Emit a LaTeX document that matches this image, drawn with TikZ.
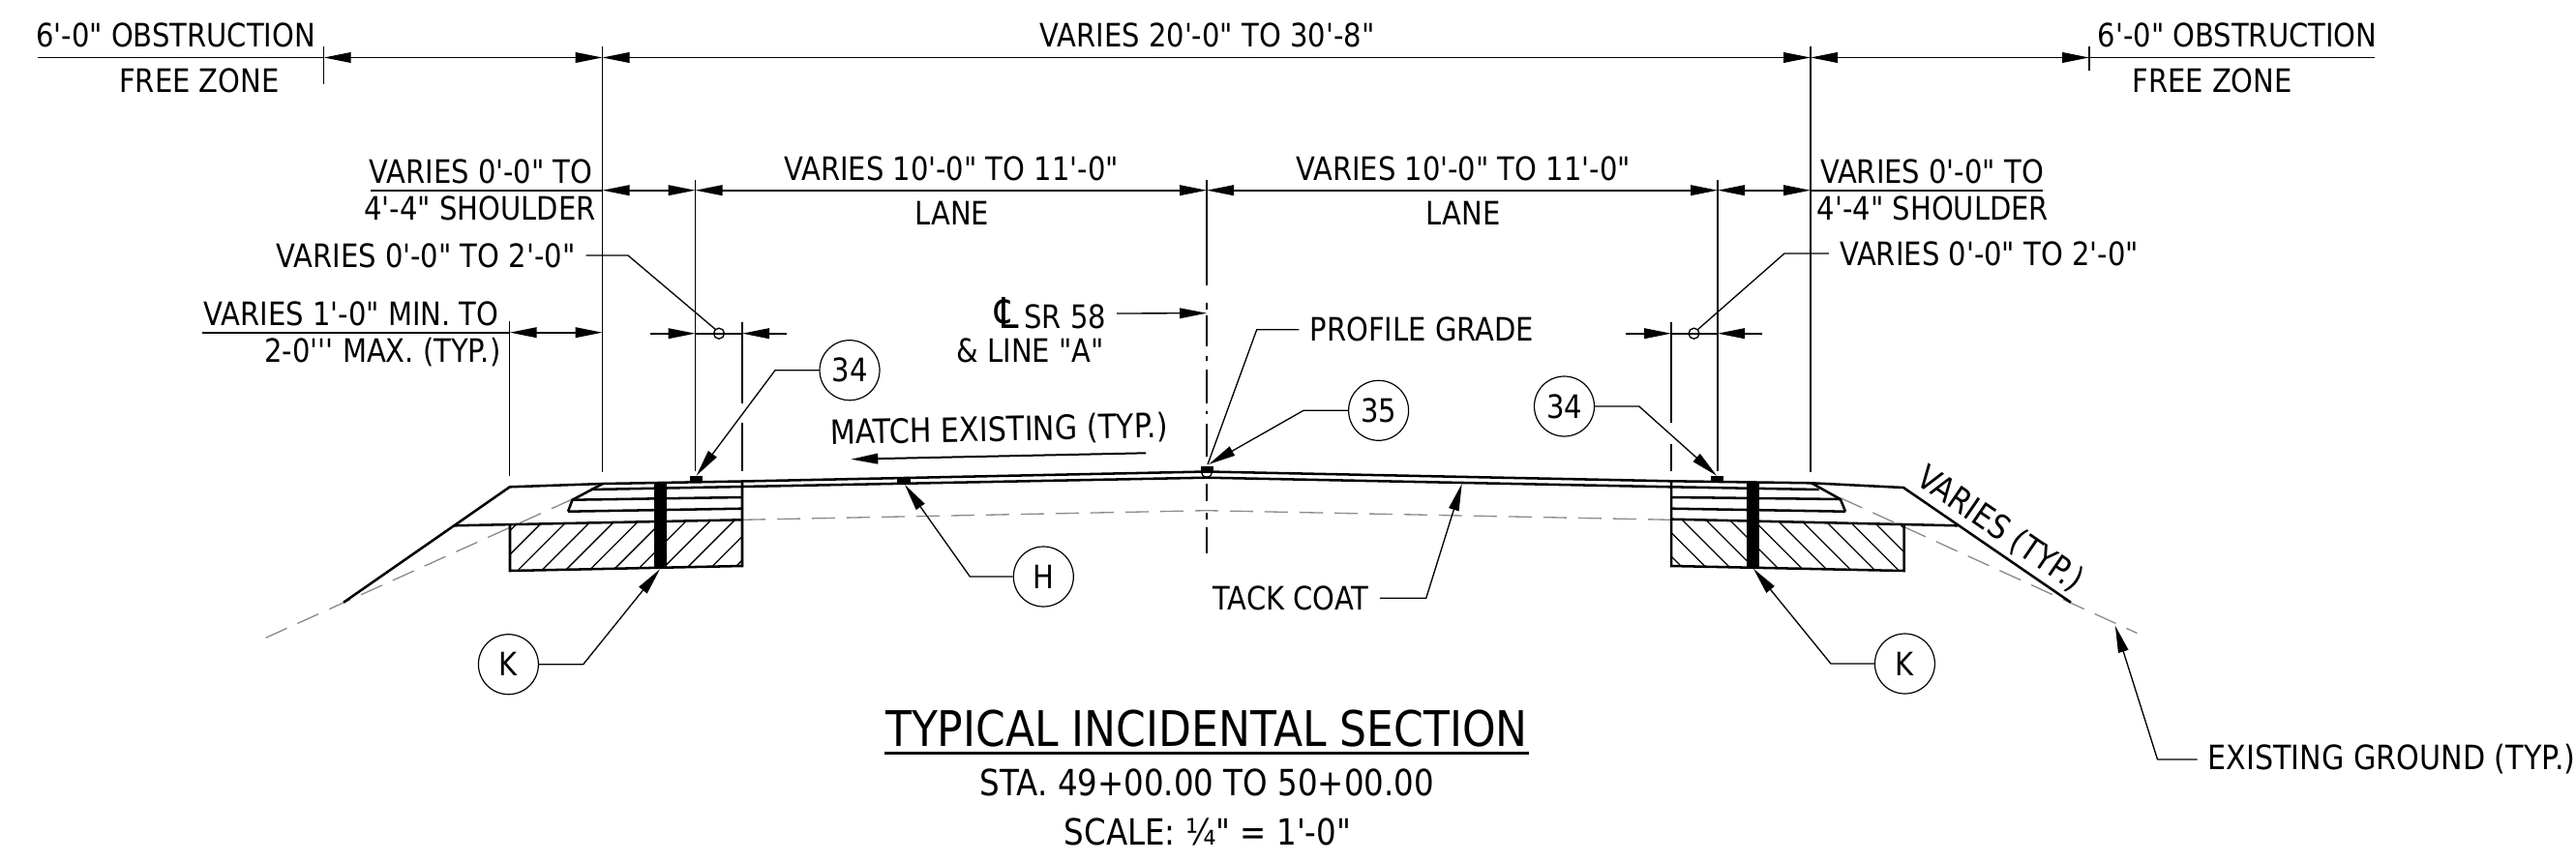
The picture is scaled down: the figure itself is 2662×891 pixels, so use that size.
\documentclass[tikz,border=0pt]{standalone}
\usepackage{fontspec}
\usetikzlibrary{arrows.meta}
\newfontfamily\cadfont{DejaVu Sans}[FakeStretch=0.87]
\tikzset{every picture/.style={line width=0.75pt}}
\tikzset{
	tip/.tip={Triangle[length=21pt,width=8pt]},
	lbl/.style={font=\cadfont\fontsize{25}{30}\selectfont,inner xsep=8pt,inner ysep=0pt},
	lblbig/.style={lbl,font=\cadfont\fontsize{26}{30}\selectfont},
	stat/.style={font=\cadfont\fontsize{28}{32}\selectfont,inner sep=0pt},
	ttl/.style={font=\cadfont\fontsize{38}{44}\selectfont,inner sep=0pt},
	bubble/.style={draw,circle,minimum size=46.5pt,inner sep=0pt,line width=0.9pt,font=\cadfont\fontsize{25}{30}\selectfont},
	extline/.style={line width=1pt},
	dimline/.style={line width=1.3pt},
	leader/.style={line width=1pt},
	roadline/.style={line width=1.9pt},
	oldground/.style={color=black!45,line width=1pt,dash pattern=on 18pt off 9pt},
	cline/.style={line width=1.2pt},
}

\begin{document}
\begin{tikzpicture}[x=0.75pt,y=0.75pt,yscale=-1,xscale=1]
	\useasboundingbox (0,0) rectangle (2662,891);

	%Hatch left
	\begin{scope}
		\clip (527,542.2) -- (767,537.3) -- (767,585) -- (527,590) -- cycle;
		\foreach \k in {-3,...,10}
			\draw [line width=1pt] ({1124.7+24.6*\k-600},600) -- ({1124.7+24.6*\k-530},530);
	\end{scope}
	%Hatch right
	\begin{scope}
		\clip (1727,536.7) -- (1967.6,541.7) -- (1967.6,590) -- (1727,585) -- cycle;
		\foreach \k in {-3,...,10}
			\draw [line width=1pt] ({1201+24.5*\k+530},530) -- ({1201+24.5*\k+600},600);
	\end{scope}

	%Existing ground
	\draw [oldground] (274.6,659.3) -- (593.7,515);
	\draw [oldground] (767,537.3) -- (1247,527.7) -- (1727,537.3);
	\draw [oldground] (1902.6,515) -- (2208.5,654.5);

	%Road surface
	\draw [roadline] (355,622.7) -- (526.8,503.3) -- (622.8,500) -- (767,497.5) -- (1247,487.5) -- (1727,497.3) -- (1872,499.3) -- (1967,504) -- (2140,622.7);
	\draw [roadline] (610.7,506) -- (767,503) -- (1247,493.7) -- (1727,503.3) -- (1879.6,506);
	\draw [roadline] (591.5,516.7) -- (767,514);
	\draw [roadline] (1727,514) -- (1901.8,516);
	\draw [roadline] (587,528.7) -- (767,525.7);
	\draw [roadline] (1727,525.7) -- (1907,528.7);
	\draw [roadline] (622.8,500) -- (591.5,516.7) -- (587,528.7);
	\draw [roadline] (1872,499.3) -- (1901.8,516) -- (1907,528.7);
	%Subgrade and boxes
	\draw [roadline] (468.8,543.3) -- (767,537.3);
	\draw [roadline] (1727,536.7) -- (2023,543.3);
	\draw [roadline] (527,542.2) -- (527,590) -- (767,585) -- (767,497.5);
	\draw [roadline] (1727,497.3) -- (1727,585) -- (1967.6,590) -- (1967.6,541.7);

	%Bars and pads
	\fill (676.3,498) rectangle (688.8,587);
	\fill (1805,499) rectangle (1818.3,587.5);
	\fill (713,492) rectangle (726,498);
	\fill (1768,492) rectangle (1781,498);
	\fill (927,494) rectangle (941,500);
	\draw [line width=1pt] (1247,488) circle [radius=5.5];
	\fill (1240.6,481.7) rectangle (1253.6,488);

	%Extension lines
	\draw [extline] (334.7,48) -- (334.7,87.5);
	\draw [extline] (2159,48) -- (2159,73);
	\draw [extline] (622.5,48) -- (622.5,488);
	\draw [extline] (1871,48) -- (1871,488);
	\draw [extline] (718.5,186) -- (718.5,487);
	\draw [extline] (1775,186) -- (1775,487);
	\draw [extline] (526.7,332) -- (526.7,492);
	\draw [extline] (767,333) -- (767,417) (767,437) -- (767,487);
	\draw [extline] (1727,333) -- (1727,437) (1727,459) -- (1727,487);
	\draw [extline] (1247,186) -- (1247,295);

	%Center line
	\foreach \a/\b in {313/320,326/358,368/373,382/417,425/428,438/472,500/518,530/537,545/572}
		\draw [cline] (1247,\a) -- (1247,\b);

	%Dimensions
	\coordinate (topA) at (334.7,59.5);
	\coordinate (topB) at (622.5,59.5);
	\coordinate (topC) at (1871,59.5);
	\coordinate (topD) at (2159,59.5);
	\draw [dimline,tip-tip] (topA) -- (topB);
	\draw [dimline,tip-tip] (topB) -- (topC);
	\draw [dimline,tip-tip] (topC) -- (topD);
	\draw [dimline] (39,59.5) -- (topA) (topD) -- (2454,59.5);

	\coordinate (midA) at (622.5,196.7);
	\coordinate (midB) at (718.5,196.7);
	\coordinate (midC) at (1247,196.7);
	\coordinate (midD) at (1775,196.7);
	\coordinate (midE) at (1871,196.7);
	\draw [dimline,tip-tip] (midA) -- (midB);
	\draw [dimline,tip-tip] (midB) -- (midC);
	\draw [dimline,tip-tip] (midC) -- (midD);
	\draw [dimline,tip-tip] (midD) -- (midE);
	\draw [dimline] (382.6,196.7) -- (midA) (midE) -- (2111,196.7);

	\coordinate (lowA) at (526.7,343.7);
	\coordinate (lowB) at (622.5,343.7);
	\draw [dimline,tip-tip] (lowA) -- (lowB);
	\draw [dimline] (209,343.7) -- (lowA);

	\coordinate (shyL) at (672.4,344.7);
	\coordinate (shyLa) at (718.5,344.7);
	\coordinate (shyLb) at (767,344.7);
	\coordinate (shyLc) at (812.5,344.7);
	\draw [dimline,-tip] (shyL) -- (shyLa);
	\draw [dimline,-tip] (shyLc) -- (shyLb);
	\draw [dimline] (shyLa) -- (shyLb);
	\coordinate (shyR) at (1680,344.7);
	\coordinate (shyRa) at (1727,344.7);
	\coordinate (shyRb) at (1775,344.7);
	\coordinate (shyRc) at (1821,344.7);
	\draw [dimline,-tip] (shyR) -- (shyRa);
	\draw [dimline,-tip] (shyRc) -- (shyRb);
	\draw [dimline] (shyRa) -- (shyRb);
	\draw [leader] (743,344.7) circle [radius=5.5];
	\draw [leader] (1750.5,344.7) circle [radius=5.5];

	% Text Node
	\node [lbl] (obstL) at (181.5,36.7) {6'-0" OBSTRUCTION};
	\node [lbl] (freeL) at (206,83) {FREE ZONE};
	\node [lbl] (varTop) at (1247.5,36.7) {VARIES 20'-0" TO 30'-8"};
	\node [lbl] (obstR) at (2312,36.7) {6'-0" OBSTRUCTION};
	\node [lbl] (freeR) at (2286,83) {FREE ZONE};
	\node [lbl] (shL) at (497,177) {VARIES 0'-0" TO};
	\node [lbl] (shLb) at (496,215) {4'-4" SHOULDER};
	\node [lbl] (shR) at (1996.5,177) {VARIES 0'-0" TO};
	\node [lbl] (shRb) at (1997.5,215) {4'-4" SHOULDER};
	\node [lbl] (laneTL) at (983,174) {VARIES 10'-0" TO 11'-0"};
	\node [lbl] (laneL) at (984,220) {LANE};
	\node [lbl] (laneTR) at (1512,174) {VARIES 10'-0" TO 11'-0"};
	\node [lbl] (laneR) at (1512,220) {LANE};
	\node [lbl] (shyLt) at (440,264) {VARIES 0'-0" TO 2'-0"};
	\node [lbl] (shyRt) at (2055.5,262) {VARIES 0'-0" TO 2'-0"};
	\node [lbl] (minT) at (363,324) {VARIES 1'-0" MIN. TO};
	\node [lbl] (maxT) at (395.5,364) {2-0''' MAX. (TYP.)};
	\node [lbl] (cl) at (1085.5,324) {{\fontsize{33}{33}\selectfont ℄}\,SR 58};
	\node [lbl] (lineA) at (1064.7,362) {\& LINE "A"};
	\node [lbl] (grade) at (1469.3,340.7) {PROFILE GRADE};
	\node [lblbig,rotate=1.2] (match) at (1032.5,445) {MATCH EXISTING (TYP.)};
	\node [lbl] (tack) at (1334,618.3) {TACK COAT};
	\node [lblbig,rotate=-34.4] (vary) at (2067,547) {VARIES (TYP.)};
	\node [lblbig] (exist) at (2471.5,785) {EXISTING GROUND (TYP.)};
	\node [ttl] (title) at (1247,753.3) {TYPICAL INCIDENTAL SECTION};
	\node [stat] (sta) at (1247.5,809) {STA. 49+00.00 TO 50+00.00};
	\node [stat] (scale) at (1248,860) {SCALE: ¼" = 1'-0"};
	\draw [line width=2.2pt] (914.4,778.3) -- (1579.5,778.3);

	% Bubbles
	\node [bubble] (a34) at (878,382.7) {34};
	\node [bubble] (b34) at (1616.5,420) {34};
	\node [bubble] (a35) at (1424.6,424.3) {35};
	\node [bubble] (aH) at (1078.3,596) {H};
	\node [bubble] (aK) at (525.4,686.7) {K};
	\node [bubble] (bK) at (1968.4,686) {K};

	% Leaders
	\draw [leader,-tip] (a34.west) -- (801,382.7) -- (719.6,491.7);
	\draw [leader,-tip] (b34.east) -- (1693.8,420) -- (1774,491.7);
	\draw [leader,-tip] (a35.west) -- (1347,424.3) -- (1249,480);
	\draw [leader,-tip] (aH.west) -- (1002.3,596) -- (935,501);
	\draw [leader,-tip] (aK.east) -- (602.7,686.7) -- (682,588.3);
	\draw [leader,-tip] (bK.west) -- (1891.9,686) -- (1811.9,587.7);
	\draw [leader] (shyLt.east) -- (649,264) -- (740,341);
	\draw [leader] (shyRt.west) -- (1844,262) -- (1754,341);
	\draw [leader] (grade.west) -- (1298.7,340.7) -- (1248,480);
	\draw [leader,-tip] (tack.east) -- (1473.7,618.3) -- (1510.7,500);
	\draw [leader,-tip] (exist.west) -- (2229.5,785) -- (2185.8,646.7);
	\coordinate (clEnd) at (1247,323.7);
	\draw [leader,-tip] (cl.east) -- (clEnd);
	\coordinate (matchA) at (1184,468.3);
	\coordinate (matchB) at (879.3,474.7);
	\draw [line width=1.5pt,-tip] (matchA) -- (matchB);

\end{tikzpicture}
\end{document}
